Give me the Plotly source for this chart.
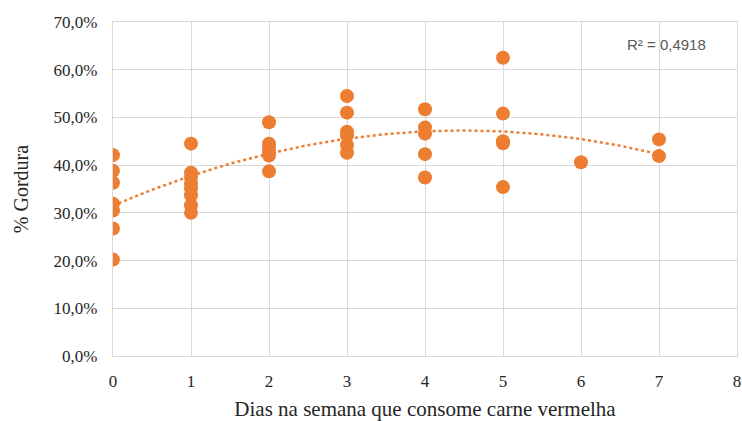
import numpy as np
import plotly.graph_objects as go

# Data
dias = [0]*7 + [1]*8 + [2]*6 + [3]*6 + [4]*5 + [5]*5 + [6] + [7]*2
gordura = [
    0.421, 0.388, 0.363, 0.319, 0.305, 0.267, 0.202,
    0.445, 0.384, 0.374, 0.361, 0.351, 0.337, 0.316, 0.300,
    0.490, 0.445, 0.436, 0.426, 0.420, 0.387,
    0.545, 0.510, 0.470, 0.462, 0.442, 0.426,
    0.517, 0.479, 0.466, 0.423, 0.374,
    0.625, 0.508, 0.450, 0.446, 0.354,
    0.406,
    0.454, 0.419,
]
x_ticks = list(range(0, 9))
y_ticks = [i / 10 for i in range(0, 8)]

orange = "#ED7D31"
grid = "#D9D9D9"

coef = np.polyfit(dias, gordura, 2)
xt = np.linspace(0, 7, 200)
yt = np.polyval(coef, xt)

fig = go.Figure()
fig.add_trace(go.Scatter(x=xt, y=yt, mode="lines",
                         line=dict(color=orange, width=2.5, dash="dot"),
                         hoverinfo="skip", showlegend=False))
fig.add_trace(go.Scatter(x=dias, y=gordura, mode="markers",
                         marker=dict(color=orange, size=14, line=dict(width=0)),
                         showlegend=False))

fig.add_annotation(text="R² = 0,4918", xref="paper", yref="paper",
                   x=0.953, y=0.965, xanchor="right", yanchor="top",
                   showarrow=False,
                   font=dict(family="Liberation Sans", size=15, color="#595959"))

fig.update_layout(
    width=742, height=421,
    margin=dict(l=113, r=5, t=22, b=65),
    paper_bgcolor="white", plot_bgcolor="white",
    separators=", ",
    font=dict(family="Liberation Serif", color="#262626"),
    xaxis=dict(range=[0, 8], tickvals=x_ticks, showgrid=True, gridcolor=grid,
               gridwidth=1.3, zeroline=False, showline=True, linecolor=grid,
               linewidth=1.3, mirror=True, ticks="", automargin=False,
               ticklabelstandoff=9,
               tickfont=dict(size=17, family="Liberation Serif", color="#262626"),
               title=dict(text="Dias na semana que consome carne vermelha",
                          font=dict(size=21, family="Liberation Serif", color="#262626"),
                          standoff=11)),
    yaxis=dict(range=[0, 0.7], tickvals=y_ticks, tickformat=".1%",
               showgrid=True, gridcolor=grid, gridwidth=1.3, zeroline=False,
               showline=True, linecolor=grid, linewidth=1.3, mirror=True,
               ticks="", ticklabelstandoff=11, automargin=False,
               tickfont=dict(size=17, family="Liberation Serif", color="#262626"),
               title=dict(text="% Gordura",
                          font=dict(size=20, family="Liberation Serif", color="#262626"),
                          standoff=19)),
)

fig.write_html("out.html",
               config={"displayModeBar": False},
               post_script="document.body.style.margin='0px';document.body.style.overflow='hidden';")
